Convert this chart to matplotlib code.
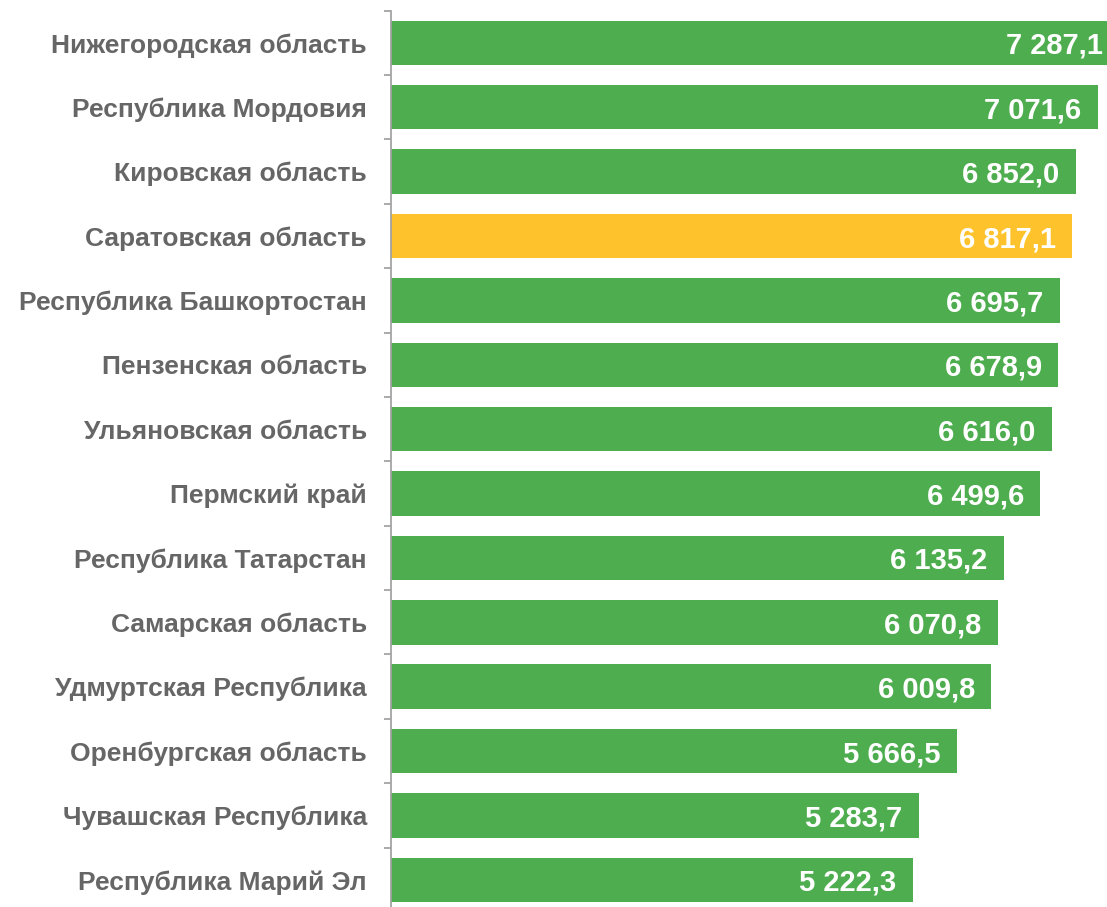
import matplotlib
matplotlib.use("Agg")
import matplotlib.pyplot as plt
from matplotlib.ticker import FixedLocator
import numpy as np

regions = [
    "Нижегородская область",
    "Республика Мордовия",
    "Кировская область",
    "Саратовская область",
    "Республика Башкортостан",
    "Пензенская область",
    "Ульяновская область",
    "Пермский край",
    "Республика Татарстан",
    "Самарская область",
    "Удмуртская Республика",
    "Оренбургская область",
    "Чувашская Республика",
    "Республика Марий Эл",
]
values = [7287.1, 7071.6, 6852.0, 6817.1, 6695.7, 6678.9, 6616.0,
          6499.6, 6135.2, 6070.8, 6009.8, 5666.5, 5283.7, 5222.3]
highlight = "Саратовская область"

GREEN = "#4EAE4F"
YELLOW = "#FEC22C"
TEXT_GRAY = "#666666"
AXIS_GRAY = "#A0A0A0"

plt.rcParams['font.family'] = ['Liberation Sans', 'DejaVu Sans']

W, H = 1107, 907
fig = plt.figure(figsize=(W / 100, H / 100), dpi=100)
left_px, top_px, bottom_px = 390.5, 10.7, 912.0
ax = fig.add_axes([left_px / W, 1 - bottom_px / H, 1 - left_px / W,
                   (bottom_px - top_px) / H])

n = len(regions)
y = np.arange(n)
colors = [YELLOW if r == highlight else GREEN for r in regions]
ax.barh(y, values, height=0.69, color=colors, edgecolor='none', zorder=2)

ax.set_xlim(0, (W - left_px) / 0.1)
ax.set_ylim(n - 0.5, -0.5)

def fmt(v):
    s = f"{v:,.1f}"
    return s.replace(",", " ").replace(".", ",")

for yi, v in zip(y, values):
    ax.annotate(fmt(v), xy=(v, yi), xytext=(-12, 0), textcoords='offset points',
                ha='right', va='center_baseline', color='white', fontsize=21,
                fontweight='bold', annotation_clip=False)

ax.set_yticks(y)
ax.set_yticklabels(regions, fontsize=19, fontweight='bold', color=TEXT_GRAY,
                   va='center_baseline')
ax.yaxis.set_minor_locator(FixedLocator(np.arange(-0.5, n, 1.0)))
ax.tick_params(axis='y', which='major', length=0, pad=17)
ax.tick_params(axis='y', which='minor', length=5, width=1.25, color=AXIS_GRAY)
ax.set_xticks([])

for s in ['top', 'right', 'bottom']:
    ax.spines[s].set_visible(False)
ax.spines['left'].set_color(AXIS_GRAY)
ax.spines['left'].set_linewidth(1.25)

fig.savefig("out.png", dpi=100)
